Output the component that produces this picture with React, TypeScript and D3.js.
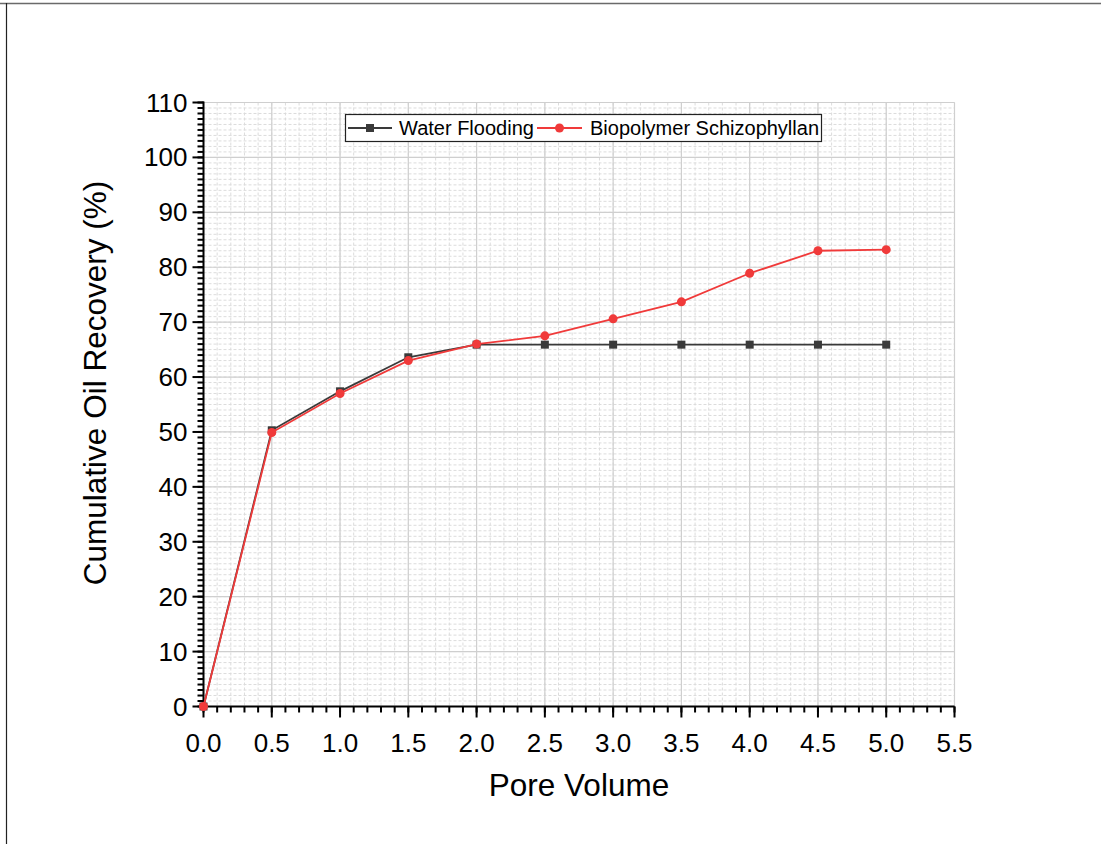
import React from "react";
import * as d3 from "d3";

const poreVolume = [0, 0.5, 1.0, 1.5, 2.0, 2.5, 3.0, 3.5, 4.0, 4.5, 5.0];
const waterFlooding = [0, 50.3, 57.4, 63.6, 65.9, 65.9, 65.9, 65.9, 65.9, 65.9, 65.9];
const biopolymer = [0, 49.9, 57.0, 63.0, 66.0, 67.5, 70.6, 73.7, 78.9, 83.0, 83.2];
const xTicks = [0, 0.5, 1.0, 1.5, 2.0, 2.5, 3.0, 3.5, 4.0, 4.5, 5.0, 5.5];
const yTicks = [0, 10, 20, 30, 40, 50, 60, 70, 80, 90, 100, 110];
const seriesNames = ["Water Flooding", "Biopolymer Schizophyllan"];

const W = 1101;
const H = 844;
const FONT = "'Liberation Sans', Arial, sans-serif";

export default function App() {
  const x = d3.scaleLinear().domain([0, 5.5]).range([203.5, 954.5]);
  const y = d3.scaleLinear().domain([0, 110]).range([706.5, 102.5]);
  const xMinor = d3.range(0, 5.5001, 0.1).map((v) => +v.toFixed(2));
  const yMinor = d3.range(0, 110.001, 1);
  const line = d3
    .line<[number, number]>()
    .x((d) => x(d[0]))
    .y((d) => y(d[1]));
  const wfPts = poreVolume.map((p, i) => [p, waterFlooding[i]] as [number, number]);
  const bpPts = poreVolume.map((p, i) => [p, biopolymer[i]] as [number, number]);
  const black = "#3a3a3a";
  const red = "#f03a3a";

  return (
    <svg
      width={W}
      height={H}
      style={{ position: "absolute", left: 0, top: 0, background: "#fff", fontFamily: FONT }}
    >
      <rect x={0} y={0} width={W} height={H} fill="#fff" />
      <line x1={0} x2={W} y1={3.5} y2={3.5} stroke="#6a6a6a" strokeWidth={1.5} />
      <line x1={6.5} x2={6.5} y1={3} y2={H} stroke="#222" strokeWidth={1.2} />

      {/* minor grid */}
      <g stroke="#dcdcdc" strokeWidth={1} strokeDasharray="3,2">
        {xMinor.map((v, i) => (
          <line key={"xm" + i} x1={x(v)} x2={x(v)} y1={y(110)} y2={y(0)} />
        ))}
        {yMinor.map((v, i) => (
          <line key={"ym" + i} x1={x(0)} x2={x(5.5)} y1={y(v)} y2={y(v)} />
        ))}
      </g>
      {/* major grid */}
      <g stroke="#cfcfcf" strokeWidth={1.2}>
        {xTicks.map((v, i) => (
          <line key={"xg" + i} x1={x(v)} x2={x(v)} y1={y(110)} y2={y(0)} />
        ))}
        {yTicks.map((v, i) => (
          <line key={"yg" + i} x1={x(0)} x2={x(5.5)} y1={y(v)} y2={y(v)} />
        ))}
      </g>

      {/* axes */}
      <g stroke="#000">
        <line x1={x(0)} x2={x(5.5)} y1={y(0)} y2={y(0)} strokeWidth={2} />
        <line x1={x(0)} x2={x(0)} y1={y(0) + 1} y2={y(110) - 1} strokeWidth={2} />
        {xMinor.map((v, i) => (
          <line key={"xt" + i} x1={x(v)} x2={x(v)} y1={y(0)} y2={y(0) + 6} strokeWidth={2} />
        ))}
        {xTicks.map((v, i) => (
          <line key={"xT" + i} x1={x(v)} x2={x(v)} y1={y(0)} y2={y(0) + 11} strokeWidth={2} />
        ))}
        {yMinor.map((v, i) => (
          <line key={"yt" + i} x1={x(0) - 6} x2={x(0)} y1={y(v)} y2={y(v)} strokeWidth={2} />
        ))}
        {yTicks.map((v, i) => (
          <line key={"yT" + i} x1={x(0) - 11} x2={x(0)} y1={y(v)} y2={y(v)} strokeWidth={2} />
        ))}
      </g>
      <g style={{ fontSize: "26px" }} fill="#000">
        {xTicks.map((v, i) => (
          <text key={"xl" + i} x={x(v)} y={y(0) + 45} textAnchor="middle">
            {v.toFixed(1)}
          </text>
        ))}
        {yTicks.map((v, i) => (
          <text key={"yl" + i} x={x(0) - 16} y={y(v) + 9} textAnchor="end">
            {v}
          </text>
        ))}
      </g>
      <text x={579} y={796} style={{ fontSize: "31.5px" }} textAnchor="middle" fill="#000">
        Pore Volume
      </text>
      <text
        transform={`translate(106, 383) rotate(-90)`}
        style={{ fontSize: "31.5px" }}
        textAnchor="middle"
        fill="#000"
      >
        Cumulative Oil Recovery (%)
      </text>

      {/* series */}
      <path d={line(wfPts) || ""} fill="none" stroke={black} strokeWidth={1.8} />
      {wfPts.map((d, i) => (
        <rect key={"wf" + i} x={x(d[0]) - 4} y={y(d[1]) - 4} width={8} height={8} fill={black} />
      ))}
      <path d={line(bpPts) || ""} fill="none" stroke={red} strokeWidth={1.8} />
      {bpPts.map((d, i) => (
        <circle key={"bp" + i} cx={x(d[0])} cy={y(d[1])} r={4.5} fill={red} />
      ))}

      {/* legend */}
      <rect x={345.5} y={114.5} width={476} height={27} fill="#fff" stroke="#222" strokeWidth={1.2} />
      <line x1={348} x2={392} y1={128} y2={128} stroke={black} strokeWidth={1.8} />
      <rect x={366} y={124} width={8} height={8} fill={black} />
      <text x={399} y={135} style={{ fontSize: "20px" }} fill="#000">
        {seriesNames[0]}
      </text>
      <line x1={537} x2={582} y1={128} y2={128} stroke={red} strokeWidth={1.8} />
      <circle cx={559.5} cy={128} r={4.5} fill={red} />
      <text x={590} y={135} style={{ fontSize: "20px" }} fill="#000">
        {seriesNames[1]}
      </text>
    </svg>
  );
}
